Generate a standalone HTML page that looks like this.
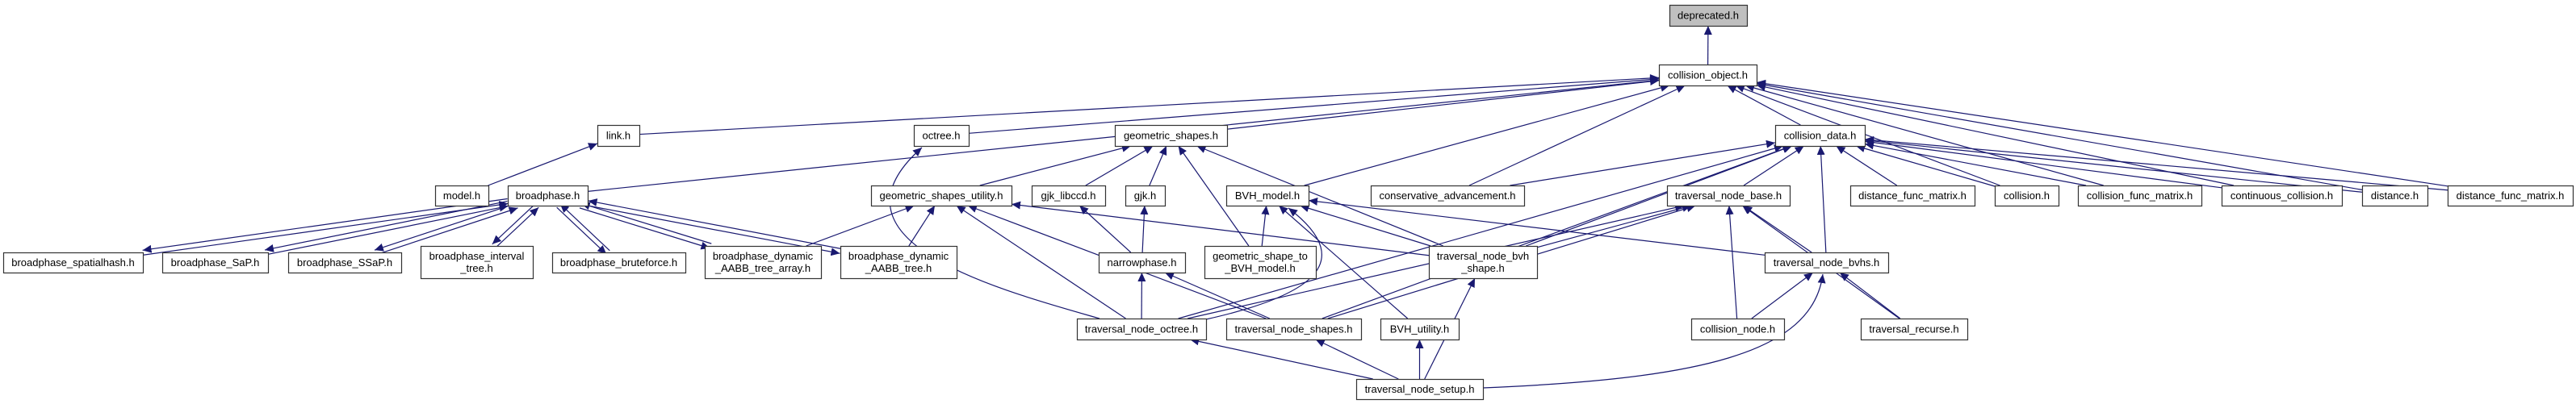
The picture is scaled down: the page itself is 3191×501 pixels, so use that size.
<!DOCTYPE html>
<html><head><meta charset="utf-8"><style>
html,body{margin:0;padding:0;background:#fff;width:3191px;height:501px;overflow:hidden}
svg{display:block}
text{font-family:"Liberation Sans",sans-serif;font-size:13px;fill:#000}
</style></head><body>
<svg id="g" width="3191" height="501" viewBox="0 0 3191 501" xmlns="http://www.w3.org/2000/svg">
<defs><marker id="a" markerUnits="userSpaceOnUse" markerWidth="12" markerHeight="10" refX="11" refY="5" orient="auto"><path d="M0,0 L11,5 L0,10 Z" fill="#191970"/></marker></defs>
<g id="edges" fill="none" stroke="#191970" stroke-width="1.2">
<path d="M1362,395 C1240,360 1010,300 1142,183" marker-end="url(#a)"/>
<path d="M1494,396 C1610,370 1690,330 1596,258" marker-end="url(#a)"/>
<path d="M1837,481 C2100,470 2245,440 2258,340" marker-end="url(#a)"/>
</g>
<g id="nodes"></g>
</svg>
<script>
var R={r0:[6,32],r1:[80,106],r2:[155,181],r3:[230,255],r4:[313,338],r4b:[305,345],r5:[395,421],r6:[470,495]};
var N={
dep:[2068,2164,'r0',['deprecated.h'],'#bfbfbf'],
co:[2055,2176,'r1',['collision_object.h']],
link:[740,792,'r2',['link.h']],
octree:[1132,1200,'r2',['octree.h']],
gs:[1381,1520,'r2',['geometric_shapes.h']],
cd:[2199,2310,'r2',['collision_data.h']],
model:[539,605,'r3',['model.h']],
bp:[629,728,'r3',['broadphase.h']],
gsu:[1079,1253,'r3',['geometric_shapes_utility.h']],
libccd:[1278,1369,'r3',['gjk_libccd.h']],
gjk:[1394,1443,'r3',['gjk.h']],
bvhm:[1519,1621,'r3',['BVH_model.h']],
ca:[1698,1888,'r3',['conservative_advancement.h']],
tnb:[2065,2217,'r3',['traversal_node_base.h']],
dfm1:[2292,2446,'r3',['distance_func_matrix.h']],
col:[2471,2550,'r3',['collision.h']],
cfm:[2574,2727,'r3',['collision_func_matrix.h']],
cc:[2752,2901,'r3',['continuous_collision.h']],
dist:[2926,3007,'r3',['distance.h']],
dfm2:[3032,3187,'r3',['distance_func_matrix.h']],
sh:[4,177,'r4',['broadphase_spatialhash.h']],
sap:[201,332,'r4',['broadphase_SaP.h']],
ssap:[357,497,'r4',['broadphase_SSaP.h']],
it:[521,660,'r4b',['broadphase_interval','_tree.h']],
bf:[684,849,'r4',['broadphase_bruteforce.h']],
dta:[873,1017,'r4b',['broadphase_dynamic','_AABB_tree_array.h']],
dt:[1041,1185,'r4b',['broadphase_dynamic','_AABB_tree.h']],
np:[1361,1468,'r4',['narrowphase.h']],
gstb:[1492,1630,'r4b',['geometric_shape_to','_BVH_model.h']],
tnbs:[1770,1904,'r4b',['traversal_node_bvh','_shape.h']],
tnbvhs:[2186,2339,'r4',['traversal_node_bvhs.h']],
tno:[1334,1494,'r5',['traversal_node_octree.h']],
tns:[1519,1686,'r5',['traversal_node_shapes.h']],
bvhu:[1710,1807,'r5',['BVH_utility.h']],
cn:[2095,2210,'r5',['collision_node.h']],
tr:[2305,2437,'r5',['traversal_recurse.h']],
setup:[1680,1837,'r6',['traversal_node_setup.h']]
};
var E=[['co','dep'],['link','co'],['bp','co'],['octree','co'],['gs','co'],['bvhm','co'],['ca','co'],['cd','co'],['col','co'],['cfm','co'],['cc','co'],['dist','co'],['dfm2','co'],
['model','link'],['gsu','gs'],['libccd','gs'],['gjk','gs'],['gstb','gs'],['tnbs','gs'],
['dta','gsu'],['dt','gsu'],['tnbs','gsu'],['tno','gsu'],['tns','gsu'],
['np','libccd'],['np','gjk'],['tno','np'],['tns','np'],
['gstb','bvhm'],['bvhu','bvhm'],['tnbs','bvhm'],['tnbvhs','bvhm'],
['setup','tno'],['setup','tns'],['setup','bvhu'],['setup','tnbs'],
['ca','cd'],['tnbs','cd'],['tno','cd'],['tns','cd'],['tnb','cd'],['tnbvhs','cd'],['dfm1','cd'],['col','cd'],['cfm','cd'],['cc','cd'],['dist','cd'],['dfm2','cd'],
['tnbs','tnb'],['tno','tnb'],['tns','tnb'],['tnbvhs','tnb'],['cn','tnb'],['tr','tnb'],
['cn','tnbvhs'],['tr','tnbvhs']];
var B=['sh','sap','ssap','it','bf','dta','dt'];
var ns='http://www.w3.org/2000/svg';
function box(k){var n=N[k],r=R[n[2]];return {x1:n[0],x2:n[1],y1:r[0],y2:r[1],cx:(n[0]+n[1])/2,cy:(r[0]+r[1])/2,hw:(n[1]-n[0])/2,hh:(r[1]-r[0])/2};}
function clip(b,px,py){var dx=px-b.cx,dy=py-b.cy;var t=Math.min(dx?b.hw/Math.abs(dx):1e9,dy?b.hh/Math.abs(dy):1e9);return [b.cx+dx*t,b.cy+dy*t];}
var eg=document.getElementById('edges');
function line(a,b,off){
  var A=box(a),Bb=box(b);
  var dx=Bb.cx-A.cx,dy=Bb.cy-A.cy,L=Math.sqrt(dx*dx+dy*dy);var ox=-dy/L*off,oy=dx/L*off;
  var A2={cx:A.cx+ox,cy:A.cy+oy,hw:A.hw,hh:A.hh},B2={cx:Bb.cx+ox,cy:Bb.cy+oy,hw:Bb.hw,hh:Bb.hh};
  var s=clip(A2,B2.cx,B2.cy),e=clip(B2,A2.cx,A2.cy);
  var l=document.createElementNS(ns,'line');
  l.setAttribute('x1',s[0]);l.setAttribute('y1',s[1]);l.setAttribute('x2',e[0]);l.setAttribute('y2',e[1]);
  l.setAttribute('marker-end','url(#a)');eg.appendChild(l);
}
E.forEach(function(e){line(e[0],e[1],0);});
B.forEach(function(k){line(k,'bp',3);line('bp',k,3);});
var ng=document.getElementById('nodes');
for(var k in N){var b=box(k),n=N[k];
  var r=document.createElementNS(ns,'rect');
  r.setAttribute('x',b.x1+0.5);r.setAttribute('y',b.y1+0.5);r.setAttribute('width',b.x2-b.x1);r.setAttribute('height',b.y2-b.y1);
  r.setAttribute('fill',n[4]||'#fff');r.setAttribute('stroke','#333');r.setAttribute('stroke-width','1.2');ng.appendChild(r);
  var lines=n[3];
  lines.forEach(function(s,i){var t=document.createElementNS(ns,'text');
    t.setAttribute('x',b.cx);t.setAttribute('y',b.cy+4.5+(i-(lines.length-1)/2)*15);
    t.setAttribute('text-anchor','middle');t.textContent=s;ng.appendChild(t);});
}
</script>
</body></html>
